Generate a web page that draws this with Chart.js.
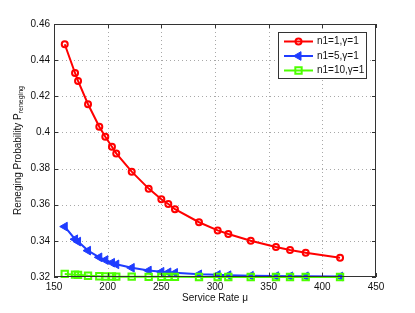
<!DOCTYPE html>
<html>
<head>
<meta charset="utf-8">
<script src="https://cdn.jsdelivr.net/npm/chart.js@4.4.0/dist/chart.umd.min.js"></script>
<style>
  html, body { margin: 0; padding: 0; background: #fff; }
</style>
</head>
<body>
<canvas id="renegingChart" width="415" height="313"></canvas>
<script>
// Valores
const serviceRates = [160, 169.6, 172.4, 181.7, 192.2, 197.8, 204, 208, 222.4, 238.2, 250, 256.5, 262.7, 285.1, 302.5, 312.4, 333.3, 356.8, 369.9, 384.5, 416.5];
const probN1 = [0.4488, 0.4329, 0.4285, 0.4156, 0.4032, 0.3976, 0.3921, 0.3884, 0.3783, 0.3689, 0.3630, 0.3604, 0.3575, 0.3503, 0.3458, 0.3438, 0.3401, 0.3366, 0.3349, 0.3334, 0.3307];
const probN5 = [0.3479, 0.3409, 0.3396, 0.3346, 0.3309, 0.3294, 0.3279, 0.3270, 0.3251, 0.3236, 0.3229, 0.3226, 0.3223, 0.3215, 0.3212, 0.3210, 0.3207, 0.3205, 0.3204, 0.3204, 0.3203];
const probN10 = [0.3217, 0.3213, 0.3212, 0.3207, 0.3204, 0.3203, 0.3203, 0.3202, 0.3202, 0.3201, 0.3201, 0.3201, 0.3201, 0.3200, 0.3200, 0.3200, 0.3200, 0.3200, 0.3200, 0.3200, 0.3200];
const seriesLabels = ['n1=1,\u03b3=1', 'n1=5,\u03b3=1', 'n1=10,\u03b3=1'];
const xTicks = [150, 200, 250, 300, 350, 400, 450];
const yTicks = [0.32, 0.34, 0.36, 0.38, 0.40, 0.42, 0.44, 0.46];

const FONT = 'Liberation Sans, Arial, Helvetica, sans-serif';
const colors = ['#ff0000', '#1f3cff', '#4cff00'];

function toPoints(values) {
    return serviceRates.map((x, i) => ({ x: x, y: values[i] }));
}

const pointStyles = [
    { pointStyle: 'circle', radius: 3, rotation: 0, borderWidth: 2, fill: false },
    { pointStyle: 'triangle', radius: 5, rotation: -90, borderWidth: 1, fill: true },
    { pointStyle: 'rect', radius: 4.5, rotation: 0, borderWidth: 2, fill: false }
];

function makeDataset(i, values) {
    const ps = pointStyles[i];
    return {
        label: seriesLabels[i],
        data: toPoints(values),
        borderColor: colors[i],
        backgroundColor: colors[i],
        borderWidth: 2,
        pointStyle: ps.pointStyle,
        pointRadius: ps.radius,
        pointRotation: ps.rotation,
        pointBorderWidth: ps.borderWidth,
        pointBorderColor: colors[i],
        pointBackgroundColor: ps.fill ? colors[i] : 'rgba(0,0,0,0)',
        tension: 0,
        clip: false,
        order: 3 - i
    };
}

// Rejilla punteada, caja, marcas hacia adentro y títulos al estilo MATLAB
const matlabFrame = {
    id: 'matlabFrame',
    beforeDatasetsDraw(chart) {
        const { ctx, chartArea: a, scales } = chart;
        ctx.save();
        ctx.strokeStyle = '#a8a8a8';
        ctx.lineWidth = 1;
        ctx.setLineDash([1, 3]);
        ctx.beginPath();
        xTicks.slice(1, -1).forEach(v => {
            const px = Math.round(scales.x.getPixelForValue(v)) + 0.5;
            ctx.moveTo(px, a.top); ctx.lineTo(px, a.bottom);
        });
        yTicks.slice(1, -1).forEach(v => {
            const py = Math.round(scales.y.getPixelForValue(v)) + 0.5;
            ctx.moveTo(a.left, py); ctx.lineTo(a.right, py);
        });
        ctx.stroke();
        ctx.restore();
    },
    afterDatasetsDraw(chart) {
        const { ctx, chartArea: a, scales } = chart;
        ctx.save();
        ctx.strokeStyle = '#333';
        ctx.lineWidth = 1;
        ctx.strokeRect(a.left + 0.5, a.top + 0.5, a.right - a.left - 1, a.bottom - a.top - 1);
        ctx.beginPath();
        xTicks.forEach(v => {
            const px = Math.round(scales.x.getPixelForValue(v)) + 0.5;
            ctx.moveTo(px, a.bottom); ctx.lineTo(px, a.bottom - 4);
            ctx.moveTo(px, a.top); ctx.lineTo(px, a.top + 4);
        });
        yTicks.forEach(v => {
            const py = Math.round(scales.y.getPixelForValue(v)) + 0.5;
            ctx.moveTo(a.left, py); ctx.lineTo(a.left + 4, py);
            ctx.moveTo(a.right, py); ctx.lineTo(a.right - 4, py);
        });
        ctx.stroke();

        // Título eje x
        ctx.fillStyle = '#111';
        ctx.font = '10px ' + FONT;
        ctx.textAlign = 'center';
        ctx.textBaseline = 'middle';
        ctx.fillText('Service Rate \u03bc', (a.left + a.right) / 2, 298);

        // Título eje y con subíndice
        const main = 'Reneging Probability P';
        const sub = 'reneging';
        ctx.font = '10px ' + FONT;
        const wMain = ctx.measureText(main).width;
        ctx.font = '7px ' + FONT;
        const wSub = ctx.measureText(sub).width;
        const total = wMain + wSub;
        ctx.translate(18, (a.top + a.bottom) / 2);
        ctx.rotate(-Math.PI / 2);
        ctx.textAlign = 'left';
        ctx.font = '10px ' + FONT;
        ctx.fillText(main, -total / 2, 0);
        ctx.font = '7px ' + FONT;
        ctx.fillText(sub, -total / 2 + wMain, 3.5);
        ctx.restore();
    },
    afterDraw(chart) {
        const { ctx, chartArea: a } = chart;
        const w = 89, h = 47;
        const x0 = a.right - 9 - w, y0 = a.top + 8;
        ctx.save();
        ctx.fillStyle = '#fff';
        ctx.fillRect(x0, y0, w, h);
        ctx.strokeStyle = '#333';
        ctx.lineWidth = 1;
        ctx.strokeRect(x0 + 0.5, y0 + 0.5, w - 1, h - 1);
        ctx.font = '10px ' + FONT;
        ctx.textBaseline = 'middle';
        ctx.textAlign = 'left';
        seriesLabels.forEach((label, i) => {
            const y = y0 + 9.5 + i * 14.5;
            ctx.strokeStyle = colors[i];
            ctx.lineWidth = 2;
            ctx.beginPath();
            ctx.moveTo(x0 + 6, y);
            ctx.lineTo(x0 + 35, y);
            ctx.stroke();
            const ps = pointStyles[i];
            ctx.fillStyle = ps.fill ? colors[i] : 'rgba(0,0,0,0)';
            ctx.lineWidth = ps.borderWidth;
            Chart.helpers.drawPoint(ctx, {
                pointStyle: ps.pointStyle,
                radius: ps.radius,
                rotation: ps.rotation,
                borderWidth: ps.borderWidth
            }, x0 + 20.5, y);
            ctx.fillStyle = '#111';
            ctx.fillText(label, x0 + 39, y);
        });
        ctx.restore();
    }
};

function setupChart() {
    const ctx = document.getElementById('renegingChart');
    new Chart(ctx, {
        type: 'line',
        data: {
            datasets: [
                makeDataset(0, probN1),
                makeDataset(1, probN5),
                makeDataset(2, probN10)
            ]
        },
        options: {
            responsive: false,
            animation: false,
            events: [],
            layout: { padding: { top: 24, right: 39, bottom: 0, left: 0 } },
            plugins: {
                legend: { display: false },
                tooltip: { enabled: false }
            },
            scales: {
                x: {
                    type: 'linear',
                    min: 150,
                    max: 450,
                    afterFit: s => { s.height = 36; },
                    afterBuildTicks: s => { s.ticks = xTicks.map(v => ({ value: v })); },
                    grid: { display: false, drawTicks: false },
                    border: { display: false },
                    ticks: { color: '#111', padding: 4, font: { family: FONT, size: 10 } }
                },
                y: {
                    type: 'linear',
                    min: 0.32,
                    max: 0.46,
                    afterFit: s => { s.width = 54; },
                    afterBuildTicks: s => { s.ticks = yTicks.map(v => ({ value: v })); },
                    grid: { display: false, drawTicks: false },
                    border: { display: false },
                    ticks: {
                        color: '#111',
                        padding: 4,
                        font: { family: FONT, size: 10 },
                        callback: v => String(+Number(v).toFixed(2))
                    }
                }
            }
        },
        plugins: [matlabFrame]
    });
}

document.addEventListener('DOMContentLoaded', setupChart);
</script>
</body>
</html>
